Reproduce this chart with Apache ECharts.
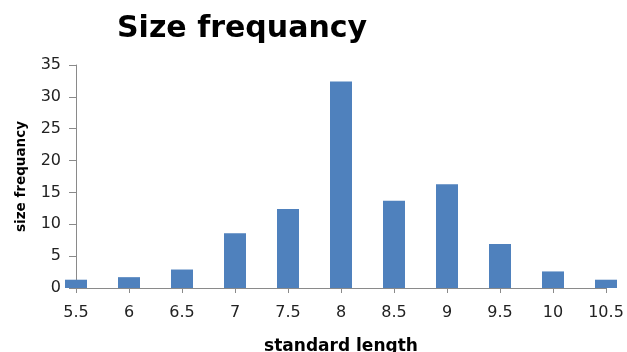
<!DOCTYPE html>
<html>
<head>
<meta charset="utf-8">
<script src="https://cdn.jsdelivr.net/npm/echarts@6/dist/echarts.min.js"></script>
<style>
  html, body { margin: 0; padding: 0; background: #fff; }
  #chart { width: 627px; height: 352px; }
</style>
</head>
<body>
<div id="chart"></div>
<script>
// Standard length classes and how many fish fall in each
const lengths = ['5.5', '6', '6.5', '7', '7.5', '8', '8.5', '9', '9.5', '10', '10.5'];
const counts = [1.3, 1.7, 2.9, 8.6, 12.4, 32.4, 13.7, 16.3, 6.9, 2.6, 1.3];
const yTicks = [0, 5, 10, 15, 20, 25, 30, 35];

const chart = echarts.init(document.getElementById('chart'), null, { renderer: 'canvas' });
const axisGray = '#8a8a8a';
const font = '"DejaVu Sans", Verdana, sans-serif';

chart.setOption({
  animation: false,
  title: {
    text: 'Size frequancy',
    left: 112,
    top: 9,
    textStyle: { fontFamily: font, fontSize: 30, fontWeight: 'bold', color: '#000' }
  },
  grid: { left: 76, right: 21, top: 65, bottom: 64, outerBoundsMode: 'none', containLabel: false },
  xAxis: {
    type: 'category',
    data: lengths,
    boundaryGap: false,
    name: 'standard length',
    nameLocation: 'middle',
    nameGap: 50,
    nameTextStyle: { fontFamily: font, fontSize: 17, fontWeight: 'bold', color: '#000' },
    axisLine: { lineStyle: { color: axisGray, width: 1 } },
    axisTick: { show: true, length: 5, lineStyle: { color: axisGray } },
    axisLabel: { fontFamily: font, fontSize: 16, color: '#222', margin: 17 },
    splitLine: { show: false }
  },
  yAxis: {
    type: 'value',
    min: yTicks[0],
    max: yTicks[yTicks.length - 1],
    interval: 5,
    name: 'size frequancy',
    nameLocation: 'middle',
    nameGap: 48,
    nameTextStyle: { fontFamily: font, fontSize: 13.5, fontWeight: 'bold', color: '#000' },
    axisLine: { show: true, lineStyle: { color: axisGray, width: 1 } },
    axisTick: { show: true, length: 7, lineStyle: { color: axisGray } },
    axisLabel: { fontFamily: font, fontSize: 16, color: '#222', margin: 15 },
    splitLine: { show: false }
  },
  series: [{
    type: 'bar',
    data: counts,
    barWidth: 22,
    itemStyle: { color: '#4f81bd' }
  }]
});
</script>
</body>
</html>
